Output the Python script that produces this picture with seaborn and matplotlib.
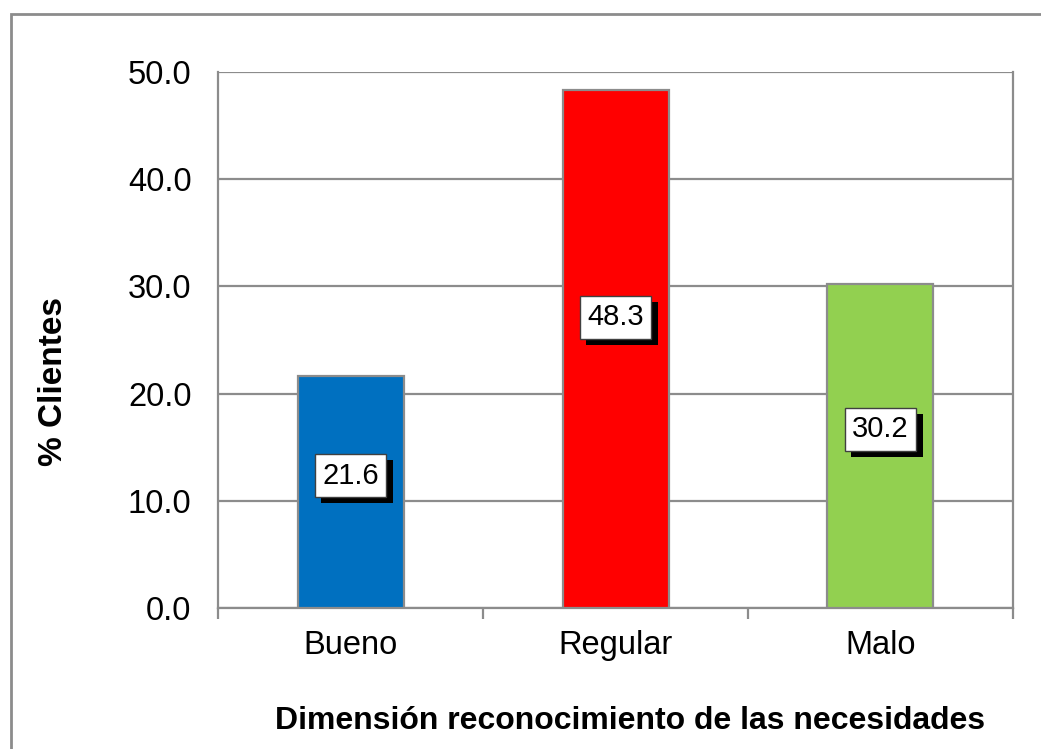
import matplotlib
matplotlib.use("Agg")
import matplotlib.pyplot as plt
import matplotlib.patheffects as pe
from matplotlib.patches import Rectangle
import seaborn as sns
import pandas as pd

categories = ["Bueno", "Regular", "Malo"]
values = [21.6, 48.3, 30.2]
bar_colors = ["#0070C0", "#FF0000", "#92D050"]
y_ticks = [0.0, 10.0, 20.0, 30.0, 40.0, 50.0]
x_title = "Dimensión reconocimiento de las necesidades"
y_title = "% Clientes"

# vertical nudge (points) of each value box above the bar's half height
label_nudge = [12, 23, 12]

sns.set_theme(style="white")
plt.rcParams["font.family"] = ["Liberation Sans", "DejaVu Sans"]
plt.rcParams["text.color"] = "black"
plt.rcParams["xtick.color"] = "black"
plt.rcParams["ytick.color"] = "black"

df = pd.DataFrame({"cat": categories, "val": values})

fig = plt.figure(figsize=(10.41, 7.49), dpi=100)
ax = fig.add_axes([218 / 1041, 1 - 608 / 749, 795 / 1041, 536 / 749])

sns.barplot(data=df, x="cat", y="val", hue="cat", palette=bar_colors,
            order=categories, hue_order=categories, legend=False,
            saturation=1, width=0.40, edgecolor="#8C8C8C", linewidth=1.6,
            ax=ax, zorder=3)

ax.set_xlim(-0.5, 2.5)
ax.set_ylim(0, 50)
ax.set_yticks(y_ticks)
ax.set_yticklabels([f"{t:.1f}" for t in y_ticks], fontsize=23.5, color="black")
ax.set_xticks(range(len(categories)))
ax.set_xticklabels(categories, fontsize=23.5, color="black")
ax.tick_params(axis="x", length=0, pad=16)
ax.tick_params(axis="y", length=0, pad=19)

# minor ticks at category boundaries on x, outward tick marks on y
ax.set_xticks([-0.5, 0.5, 1.5, 2.5], minor=True)
ax.tick_params(axis="x", which="minor", length=8, width=1.6, color="#8C8C8C",
               direction="out", bottom=True)
ax.set_yticks(y_ticks, minor=True)
ax.tick_params(axis="y", which="minor", length=10, width=1.6, color="#8C8C8C",
               direction="out", left=True)

ax.yaxis.grid(True, color="#8C8C8C", linewidth=1.6, zorder=0)
ax.set_axisbelow(True)
for side in ["left", "right", "bottom", "top"]:
    ax.spines[side].set_color("#8C8C8C")
    ax.spines[side].set_linewidth(1.6)
ax.spines["top"].set_visible(False)

ax.set_xlabel("")
ax.set_ylabel("")

# value boxes with a hard drop shadow
for i, (v, dy) in enumerate(zip(values, label_nudge)):
    t = ax.annotate(f"{v:.1f}", xy=(i, v / 2), xytext=(0, dy),
                    textcoords="offset points", ha="center", va="center",
                    fontsize=21, color="black", zorder=5,
                    bbox=dict(boxstyle="square,pad=0.26", fc="white",
                              ec="#404040", lw=1))
    t.get_bbox_patch().set_path_effects([
        pe.SimplePatchShadow(offset=(4.5, -4.5), shadow_rgbFace="black", alpha=1),
        pe.Normal(),
    ])

fig.text(54 / 1041, 1 - 381 / 749, y_title, rotation=90, ha="center", va="center",
         fontsize=24, fontweight="bold")
fig.text(630 / 1041, 1 - 721 / 749, x_title, ha="center", va="center",
         fontsize=23, fontweight="bold")

# chart frame: only top and left edges fall inside the canvas
fig.patches.append(Rectangle((11 / 1041, -0.2), 1.2, 1 - 14 / 749 + 0.2,
                             transform=fig.transFigure, fill=False,
                             edgecolor="#8C8C8C", linewidth=2, zorder=0))

fig.savefig("out.png", dpi=100, facecolor="white")
